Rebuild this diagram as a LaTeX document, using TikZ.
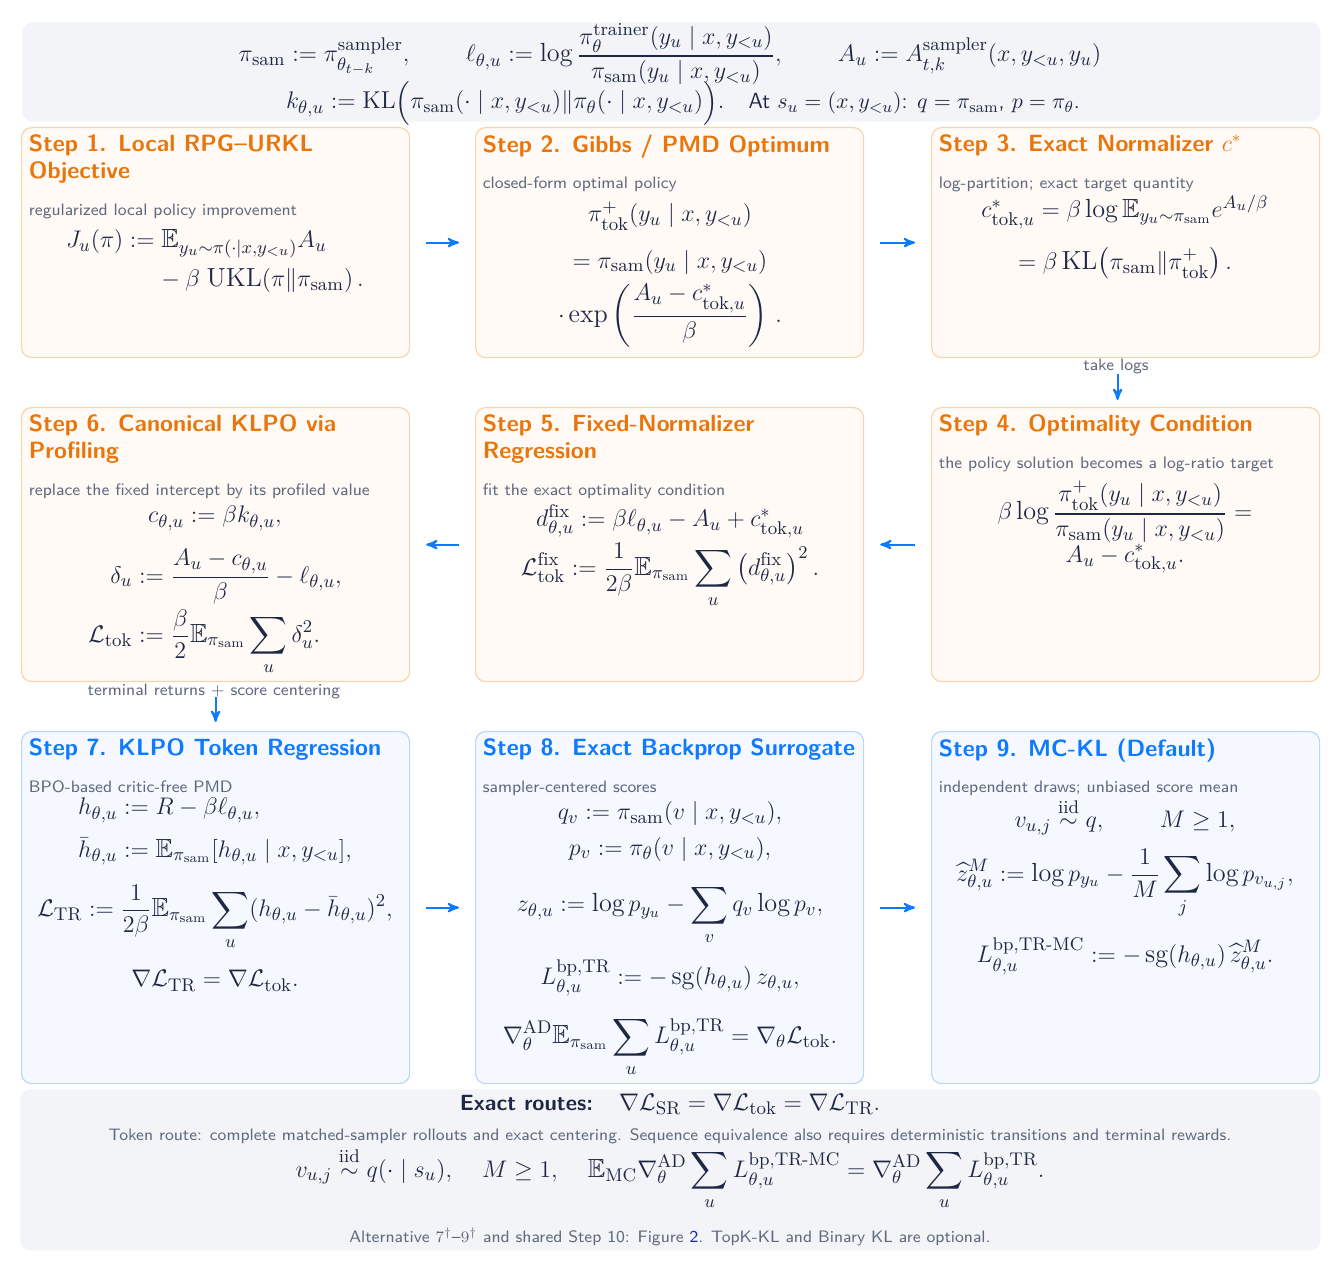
\documentclass[tikz,border=0pt]{standalone}
\usepackage{amsmath,amssymb}
\usepackage{fontspec}
\usepackage{tikz}
\usetikzlibrary{arrows}
\newcommand\msam{\mathrm{sam}}
\newcommand\mtok{\mathrm{tok}}
\definecolor{panel_gray}{RGB}{242,244,247}
\definecolor{box_orange}{RGB}{255,250,245}
\definecolor{edge_orange}{RGB}{248,212,172}
\definecolor{title_orange}{RGB}{232,118,12}
\definecolor{box_blue}{RGB}{245,249,255}
\definecolor{edge_blue}{RGB}{186,214,250}
\definecolor{title_blue}{RGB}{14,122,254}
\definecolor{text_navy}{RGB}{30,40,68}
\definecolor{text_gray}{RGB}{96,106,126}
\definecolor{link_blue}{RGB}{20,40,160}

\begin{document}
\begin{tikzpicture}[->,>=stealth',x=0.5pt,y=-0.5pt]
    \tikzstyle{panel}=[draw=none, fill=panel_gray, rounded corners=5pt, anchor=north west, inner sep=0]
    \tikzstyle{stepor}=[draw=edge_orange, fill=box_orange, line width=0.6pt, rounded corners=5pt, minimum width=194pt, anchor=north west, inner sep=0]
    \tikzstyle{stepbl}=[style=stepor, draw=edge_blue, fill=box_blue]
    \tikzstyle{ttl}=[anchor=north west, inner sep=0, align=left, font=\fontsize{11.75}{13.7}\selectfont\bfseries\sffamily]
    \tikzstyle{ttlor}=[style=ttl, text=title_orange]
    \tikzstyle{ttlbl}=[style=ttl, text=title_blue]
    \tikzstyle{subt}=[anchor=base west, inner sep=0, font=\fontsize{8.3}{10}\selectfont\sffamily, text=text_gray]
    \tikzstyle{eq}=[anchor=base, inner sep=0, text=text_navy, font=\fontsize{13.1}{15.7}\selectfont]
    \tikzstyle{lbl}=[anchor=base, inner sep=0, font=\fontsize{8.3}{10}\selectfont\sffamily, text=text_gray]
    \tikzstyle{flow}=[draw=title_blue, line width=1pt, shorten <=8pt, shorten >=8pt]

    \useasboundingbox (0,0) rectangle (1340,1272);

    % notation panel
    \node[panel, minimum width=649pt, minimum height=49.5pt] (top) at (22,22) {};
    \node[eq] (k1) at (670,62) {$\displaystyle \pi_{\msam} := \pi^{\mathrm{sampler}}_{\theta_{t-k}},\qquad
      \ell_{\theta,u} := \log\frac{\pi^{\mathrm{trainer}}_{\theta}(y_u\mid x,y_{<u})}{\pi_{\msam}(y_u\mid x,y_{<u})},\qquad
      A_u := A^{\mathrm{sampler}}_{t,k}(x,y_{<u},y_u)$};
    \node[eq, font=\fontsize{12.2}{14.6}\selectfont] (k2) at (683,109) {$k_{\theta,u} := \mathrm{KL}\Bigl(\pi_{\msam}(\cdot\mid x,y_{<u})\|\pi_\theta(\cdot\mid x,y_{<u})\Bigr).$\quad
      {\fontsize{11}{13}\selectfont\sffamily At $s_u=(x,y_{<u})$: $q=\pi_{\msam}$,\ $p=\pi_\theta$.}};

    % steps 1-3
    \node[stepor, minimum height=115pt] (s1) at (21,127) {};
    \node[stepor, minimum height=115pt] (s2) at (475,127) {};
    \node[stepor, minimum height=115pt] (s3) at (931,127) {};
    \node[ttlor] (t1) at (28.5,134) {Step 1. Local RPG--URKL\\Objective};
    \node[ttlor] (t2) at (482.5,134) {Step 2. Gibbs / PMD Optimum};
    \node[ttlor] (t3) at (938.5,134) {Step 3. Exact Normalizer $c^{*}$};
    \node[subt] (d1) at (28.5,216) {regularized local policy improvement};
    \node[subt] (d2) at (482.5,189) {closed-form optimal policy};
    \node[subt] (d3) at (938.5,189) {log-partition; exact target quantity};
    \node[eq] (m1) at (215,248) {$\begin{aligned}[t]
      J_u(\pi) &:= \mathbb{E}_{y_u\sim\pi(\cdot\mid x,y_{<u})}A_u\\[-0.5pt]
      &\hspace{1.25em}-\beta\;\mathrm{UKL}(\pi\|\pi_{\msam})\,.
      \end{aligned}$};
    \node[eq] (m2) at (670,222) {$\begin{gathered}[t]
      \pi^{+}_{\mtok}(y_u\mid x,y_{<u})\\[4.5pt]
      =\pi_{\msam}(y_u\mid x,y_{<u})\\[-1pt]
      \cdot\exp\left(\frac{A_u-c^{*}_{\mtok,u}}{\beta}\right)\,.
      \end{gathered}$};
    \node[eq] (m3) at (1125,218) {$\begin{gathered}[t]
      c^{*}_{\mtok,u} = \beta\log\mathbb{E}_{y_u\sim\pi_{\msam}}e^{A_u/\beta}\\[5.5pt]
      =\beta\,\mathrm{KL}\bigl(\pi_{\msam}\|\pi^{+}_{\mtok}\bigr)\,.
      \end{gathered}$};

    % steps 4-6
    \node[stepor, minimum height=137pt] (s4) at (931,407) {};
    \node[stepor, minimum height=137pt] (s5) at (475,407) {};
    \node[stepor, minimum height=137pt] (s6) at (21,407) {};
    \node[ttlor] (t4) at (938.5,414) {Step 4. Optimality Condition};
    \node[ttlor] (t5) at (482.5,414) {Step 5. Fixed-Normalizer\\Regression};
    \node[ttlor] (t6) at (28.5,414) {Step 6. Canonical KLPO via\\Profiling};
    \node[subt] (d4) at (938.5,469) {the policy solution becomes a log-ratio target};
    \node[subt] (d5) at (482.5,496) {fit the exact optimality condition};
    \node[subt] (d6) at (28.5,496) {replace the fixed intercept by its profiled value};
    \node[eq] (m4) at (1125,520) {$\begin{gathered}[t]
      \beta\log\frac{\pi^{+}_{\mtok}(y_u\mid x,y_{<u})}{\pi_{\msam}(y_u\mid x,y_{<u})} =\\[-5pt]
      A_u-c^{*}_{\mtok,u}.
      \end{gathered}$};
    \node[eq] (m5) at (670,527) {$\begin{gathered}[t]
      d^{\mathrm{fix}}_{\theta,u} := \beta\ell_{\theta,u}-A_u+c^{*}_{\mtok,u}\\[-1pt]
      \mathcal{L}^{\mathrm{fix}}_{\mtok} := \frac{1}{2\beta}\mathbb{E}_{\pi_{\msam}}\sum_u\left(d^{\mathrm{fix}}_{\theta,u}\right)^2.
      \end{gathered}$};
    \node[eq] (m6) at (215,523) {$\begin{gathered}[t]
      c_{\theta,u} := \beta k_{\theta,u},\\[4.5pt]
      \begin{aligned}[t]
      \delta_u &:= \frac{A_u-c_{\theta,u}}{\beta}-\ell_{\theta,u},\\[-1.5pt]
      \mathcal{L}_{\mtok} &:= \frac{\beta}{2}\mathbb{E}_{\pi_{\msam}}\sum_u\delta_u^2.
      \end{aligned}
      \end{gathered}$};

    % steps 7-9
    \node[stepbl, minimum height=176pt] (s7) at (21,731) {};
    \node[stepbl, minimum height=176pt] (s8) at (475,731) {};
    \node[stepbl, minimum height=176pt] (s9) at (931,731) {};
    \node[ttlbl] (t7) at (28.5,738) {Step 7. KLPO Token Regression};
    \node[ttlbl] (t8) at (482.5,738) {Step 8. Exact Backprop Surrogate};
    \node[ttlbl] (t9) at (938.5,738) {Step 9. MC-KL (Default)};
    \node[subt] (d7) at (28.5,793) {BPO-based critic-free PMD};
    \node[subt] (d8) at (482.5,793) {sampler-centered scores};
    \node[subt] (d9) at (938.5,793) {independent draws; unbiased score mean};
    \node[eq] (m7) at (215,815) {$\begin{gathered}[t]
      \begin{aligned}[t]
      h_{\theta,u} &:= R-\beta\ell_{\theta,u},\\[2.5pt]
      \bar h_{\theta,u} &:= \mathbb{E}_{\pi_{\msam}}[h_{\theta,u}\mid x,y_{<u}],
      \end{aligned}\\[5pt]
      \mathcal{L}_{\mathrm{TR}} := \frac{1}{2\beta}\mathbb{E}_{\pi_{\msam}}\sum_u(h_{\theta,u}-\bar h_{\theta,u})^2,\\[3.5pt]
      \nabla\mathcal{L}_{\mathrm{TR}} = \nabla\mathcal{L}_{\mtok}.
      \end{gathered}$};
    \node[eq] (m8) at (670,820) {$\begin{gathered}[t]
      q_v := \pi_{\msam}(v\mid x,y_{<u}),\\[-1pt]
      p_v := \pi_\theta(v\mid x,y_{<u}),\\[6pt]
      z_{\theta,u} := \log p_{y_u}-\sum_v q_v\log p_v,\\[3.25pt]
      L^{\mathrm{bp,TR}}_{\theta,u} := -\operatorname{sg}(h_{\theta,u})\,z_{\theta,u},\\[6.2pt]
      \nabla^{\mathrm{AD}}_\theta\mathbb{E}_{\pi_{\msam}}\sum_u L^{\mathrm{bp,TR}}_{\theta,u} = \nabla_\theta\mathcal{L}_{\mtok}.
      \end{gathered}$};
    \node[eq] (m9) at (1125,828) {$\begin{gathered}[t]
      v_{u,j}\overset{\mathrm{iid}}{\sim}q,\qquad M\ge 1,\\[2pt]
      \widehat{z}^{M}_{\theta,u} := \log p_{y_u}-\frac{1}{M}\sum_j\log p_{v_{u,j}},\\[5.75pt]
      L^{\mathrm{bp,TR\text{-}MC}}_{\theta,u} := -\operatorname{sg}(h_{\theta,u})\,\widehat{z}^{M}_{\theta,u}.
      \end{gathered}$};

    % summary panel
    \node[panel, minimum width=650pt, minimum height=80.5pt] (bot) at (20,1089) {};
    \node[eq] (r1) at (670,1110) {{\fontsize{11}{13}\selectfont\bfseries\sffamily Exact routes:}\quad$\nabla\mathcal{L}_{\mathrm{SR}} = \nabla\mathcal{L}_{\mtok} = \nabla\mathcal{L}_{\mathrm{TR}}.$};
    \node[lbl] (r2) at (670,1140) {Token route: complete matched-sampler rollouts and exact centering. Sequence equivalence also requires deterministic transitions and terminal rewards.};
    \node[eq] (r3) at (670,1177) {$\displaystyle v_{u,j}\overset{\mathrm{iid}}{\sim}q(\cdot\mid s_u),\quad M\ge 1,\quad
      \mathbb{E}_{\mathrm{MC}}\nabla^{\mathrm{AD}}_\theta\sum_u L^{\mathrm{bp,TR\text{-}MC}}_{\theta,u} = \nabla^{\mathrm{AD}}_\theta\sum_u L^{\mathrm{bp,TR}}_{\theta,u}.$};
    \node[lbl] (r4) at (670,1242) {Alternative $7^{\dagger}$--$9^{\dagger}$ and shared Step 10: Figure \textcolor{link_blue}{2}. TopK-KL and Binary KL are optional.};

    % flow
    \node[lbl] (l34) at (1116,371) {take logs};
    \node[lbl] (l67) at (214,696) {terminal returns + score centering};
    \path
     (s1) edge[flow] (s2)
     (s2) edge[flow] (s3)
     ([xshift=-4pt]s3.south) edge[flow, shorten >=3.5pt] ([xshift=-4pt]s4.north)
     (s4) edge[flow] (s5)
     (s5) edge[flow] (s6)
     (s6) edge[flow, shorten <=7.5pt, shorten >=4.5pt] (s7)
     (s7) edge[flow] (s8)
     (s8) edge[flow] (s9)
     ;
\end{tikzpicture}
\end{document}
